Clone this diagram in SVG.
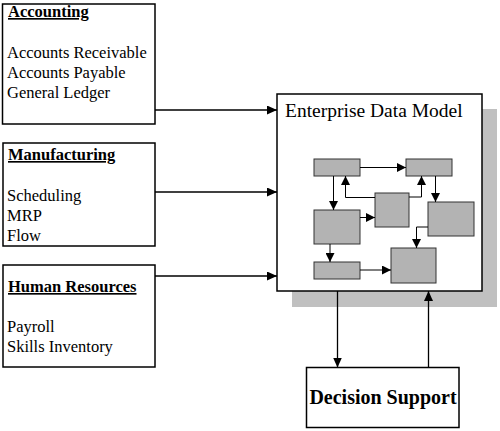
<svg xmlns="http://www.w3.org/2000/svg" width="500" height="431" viewBox="0 0 500 431">
<style>
.box{fill:#fff;stroke:#000;stroke-width:1.5}
.ib{fill:#b3b3b3;stroke:#333;stroke-width:1}
.t{font-family:"Liberation Serif",serif;font-size:16.5px;fill:#000}
.h{font-weight:bold;text-decoration:underline}
.c{fill:none;stroke:#000;stroke-width:1.3}
.ci{fill:none;stroke:#000;stroke-width:1}
</style>
<defs>
<marker id="ah" markerWidth="10" markerHeight="9" refX="10" refY="4.5" orient="auto" markerUnits="userSpaceOnUse"><path d="M0,0L10,4.5L0,9z" fill="#000"/></marker>
<marker id="ai" markerWidth="9" markerHeight="9" refX="9" refY="4.5" orient="auto" markerUnits="userSpaceOnUse"><path d="M0,0L9,4.5L0,9z" fill="#000"/></marker>
</defs>
<g id="accounting">
<rect class="box" x="2.5" y="4" width="152.5" height="120"/>
<text class="t h" x="8" y="17">Accounting</text>
<text class="t" x="7" y="58">Accounts Receivable</text>
<text class="t" x="7" y="78">Accounts Payable</text>
<text class="t" x="7" y="98">General Ledger</text>
</g>
<g id="manufacturing">
<rect class="box" x="3" y="143" width="152" height="103"/>
<text class="t h" x="8" y="160">Manufacturing</text>
<text class="t" x="7" y="201">Scheduling</text>
<text class="t" x="7" y="221">MRP</text>
<text class="t" x="7" y="241">Flow</text>
</g>
<g id="hr">
<rect class="box" x="3" y="265" width="152" height="102"/>
<text class="t h" x="8" y="292">Human Resources</text>
<text class="t" x="7" y="332">Payroll</text>
<text class="t" x="7" y="352">Skills Inventory</text>
</g>
<g id="edm">
<rect x="292" y="109" width="205" height="198" fill="#c0c0c0"/>
<rect class="box" x="277" y="94" width="205" height="197"/>
<text class="t" x="285" y="117" style="font-size:19.5px">Enterprise Data Model</text>
<rect class="ib" x="314" y="159" width="46" height="17"/>
<rect class="ib" x="406" y="159" width="46" height="17"/>
<rect class="ib" x="375" y="193" width="34" height="34"/>
<rect class="ib" x="314" y="210" width="46" height="34"/>
<rect class="ib" x="428" y="202" width="46" height="34"/>
<rect class="ib" x="314" y="262" width="46" height="17"/>
<rect class="ib" x="391" y="248" width="45" height="35"/>
<path class="ci" d="M360,167.5H406" marker-end="url(#ai)"/>
<path class="ci" d="M333.5,176V210" marker-end="url(#ai)"/>
<path class="ci" d="M375,197.5H345.5V176" marker-end="url(#ai)"/>
<path class="ci" d="M409,197H421.5V176" marker-end="url(#ai)"/>
<path class="ci" d="M435.5,176V202" marker-end="url(#ai)"/>
<path class="ci" d="M360,217.5H375" marker-end="url(#ai)"/>
<path class="ci" d="M330,244V262" marker-end="url(#ai)"/>
<path class="ci" d="M428,227H416.5V248" marker-end="url(#ai)"/>
<path class="ci" d="M360,270H391" marker-end="url(#ai)"/>
</g>
<g id="decision">
<rect class="box" x="306.5" y="367.5" width="152.5" height="60"/>
<text class="t" x="383" y="404" text-anchor="middle" style="font-size:20px;font-weight:bold">Decision Support</text>
</g>
<g id="connectors">
<path class="c" d="M155,110H277" marker-end="url(#ah)"/>
<path class="c" d="M155,192H277" marker-end="url(#ah)"/>
<path class="c" d="M155,276H277" marker-end="url(#ah)"/>
<path class="c" d="M337.5,291V367.5" marker-end="url(#ah)"/>
<path class="c" d="M428.5,367.5V291" marker-end="url(#ah)"/>
</g>
</svg>
